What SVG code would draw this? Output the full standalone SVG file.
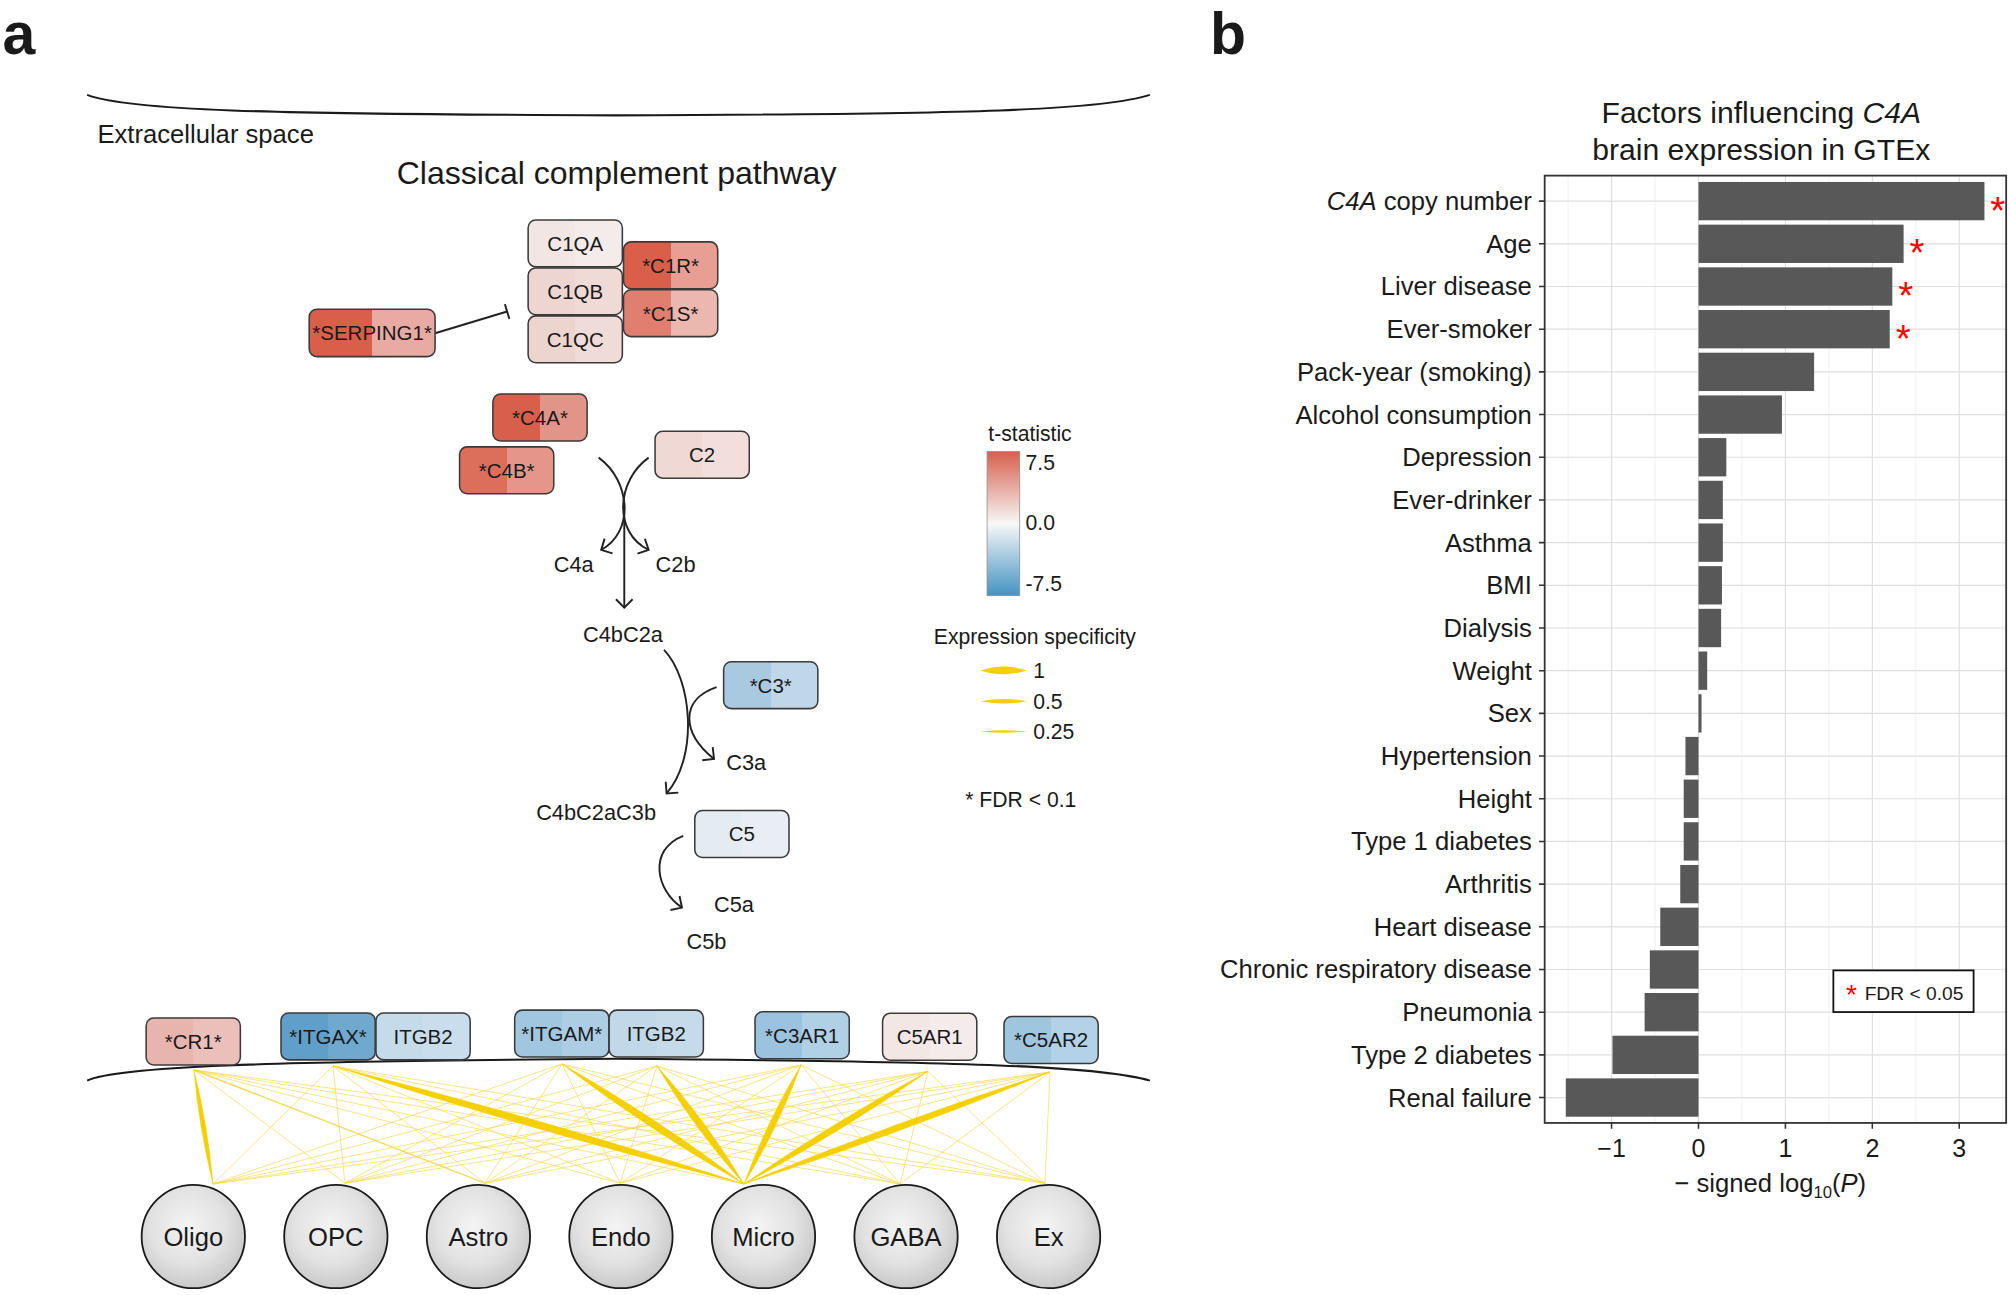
<svg xmlns="http://www.w3.org/2000/svg" width="2010" height="1295" viewBox="0 0 2010 1295">
<defs>
<style>
text{font-family:"Liberation Sans",Arial,Helvetica,sans-serif;fill:#1a1a1a}
.nd rect{stroke:#3a3a3a;stroke-width:1.2}
.nt{font-size:16px;text-anchor:middle}
.lbl{font-size:17px}
.cell ellipse{fill:url(#cellg);stroke:#1a1a1a;stroke-width:1.4}
.ct{font-size:20px;text-anchor:middle}
.thin{fill:none;stroke:#f5d955;stroke-width:0.65;opacity:0.85}
.thick{fill:#f5d000;stroke:#f5d000;stroke-width:0.4}
.arc{fill:none;stroke:#222;stroke-width:1.5}
.mem{fill:none;stroke:#1a1a1a;stroke-width:1.6}
.leg{font-size:16.5px}
.rl{font-size:20px;text-anchor:end}
.tk{font-size:19.5px;text-anchor:middle}
.gmaj{stroke:#dedede;stroke-width:0.9}
.gmin{stroke:#ececec;stroke-width:0.6}
.bar{fill:#585858}
.ast{font-size:30px;fill:#ff0000;text-anchor:middle}
.axt{stroke:#333;stroke-width:1.2}
.plab{font-size:46px;font-weight:bold}
</style>
<marker id="arr" viewBox="-10 -10 20 20" markerWidth="20" markerHeight="20" refX="0" refY="0" orient="auto" markerUnits="userSpaceOnUse"><path d="M -6.5 -6.5 L 0 0 L -6.5 6.5" fill="none" stroke="#222" stroke-width="1.5"/></marker>
<marker id="tee" viewBox="-10 -10 20 20" markerWidth="20" markerHeight="20" refX="0" refY="0" orient="auto" markerUnits="userSpaceOnUse"><path d="M 0 -6 L 0 6" fill="none" stroke="#222" stroke-width="1.5"/></marker>
<radialGradient id="cellg" cx="0.45" cy="0.4" r="0.6"><stop offset="0" stop-color="#f4f4f4"/><stop offset="0.6" stop-color="#e2e2e2"/><stop offset="1" stop-color="#c9c9c9"/></radialGradient>
<linearGradient id="cbar" x1="0" y1="0" x2="0" y2="1"><stop offset="0" stop-color="#d6604d"/><stop offset="0.5" stop-color="#f7f7f7"/><stop offset="1" stop-color="#4393c3"/></linearGradient>
<linearGradient id="gC1QA"><stop offset="0.5" stop-color="#f2e6e4"/><stop offset="0.5" stop-color="#f4ebea"/></linearGradient>
<linearGradient id="gC1QB"><stop offset="0.5" stop-color="#edd5d1"/><stop offset="0.5" stop-color="#efdad6"/></linearGradient>
<linearGradient id="gC1QC"><stop offset="0.5" stop-color="#ecd4cf"/><stop offset="0.5" stop-color="#efdbd7"/></linearGradient>
<linearGradient id="gC1R"><stop offset="0.5" stop-color="#d95f4a"/><stop offset="0.5" stop-color="#e89e92"/></linearGradient>
<linearGradient id="gC1S"><stop offset="0.5" stop-color="#e07f70"/><stop offset="0.5" stop-color="#ebb7af"/></linearGradient>
<linearGradient id="gSERP"><stop offset="0.5" stop-color="#d95f4b"/><stop offset="0.5" stop-color="#e8aaa2"/></linearGradient>
<linearGradient id="gC4A"><stop offset="0.5" stop-color="#d85f4b"/><stop offset="0.5" stop-color="#e39488"/></linearGradient>
<linearGradient id="gC4B"><stop offset="0.5" stop-color="#dc6e5c"/><stop offset="0.5" stop-color="#e5958a"/></linearGradient>
<linearGradient id="gC2"><stop offset="0.5" stop-color="#f0d9d5"/><stop offset="0.5" stop-color="#f2dfdb"/></linearGradient>
<linearGradient id="gC3"><stop offset="0.5" stop-color="#a9c9e1"/><stop offset="0.5" stop-color="#bfd7e9"/></linearGradient>
<linearGradient id="gC5"><stop offset="0.5" stop-color="#e4ebf1"/><stop offset="0.5" stop-color="#e8eef3"/></linearGradient>
<linearGradient id="gCR1"><stop offset="0.5" stop-color="#e8b5ae"/><stop offset="0.5" stop-color="#ecc0ba"/></linearGradient>
<linearGradient id="gITGAX"><stop offset="0.5" stop-color="#5f9fc9"/><stop offset="0.5" stop-color="#70a9d0"/></linearGradient>
<linearGradient id="gITGB2a"><stop offset="0.5" stop-color="#c5dbea"/><stop offset="0.5" stop-color="#c9dded"/></linearGradient>
<linearGradient id="gITGAM"><stop offset="0.5" stop-color="#a1c6e0"/><stop offset="0.5" stop-color="#adcde4"/></linearGradient>
<linearGradient id="gITGB2b"><stop offset="0.5" stop-color="#c1d8e9"/><stop offset="0.5" stop-color="#c6dbea"/></linearGradient>
<linearGradient id="gC3AR1"><stop offset="0.5" stop-color="#9bc2de"/><stop offset="0.5" stop-color="#b0d0e6"/></linearGradient>
<linearGradient id="gC5AR1"><stop offset="0.5" stop-color="#f3e7e6"/><stop offset="0.5" stop-color="#f5ebea"/></linearGradient>
<linearGradient id="gC5AR2"><stop offset="0.5" stop-color="#9fc5df"/><stop offset="0.5" stop-color="#b4d2e7"/></linearGradient>
</defs>
<rect width="2010" height="1295" fill="#ffffff"/>
<g transform="scale(1.28189)">

<g id="panel-a">
<text class="plab" x="2" y="42">a</text>
<path class="mem" d="M 68 74 C 100 86, 200 89, 480 90 C 760 89, 860 86, 897 74"/>
<text x="76" y="111.8" style="font-size:20px">Extracellular space</text>
<text x="481" y="143.5" style="font-size:25px;text-anchor:middle">Classical complement pathway</text>

<g id="connectors">
<path class="arc" d="M 339.4 260 L 395.6 243" marker-end="url(#tee)"/>
<path class="arc" d="M 467 357 C 492 375, 495 415, 469 429" marker-end="url(#arr)"/>
<path class="arc" d="M 506 357 C 481 375, 478 415, 506 429" marker-end="url(#arr)"/>
<path class="arc" d="M 487 392 L 487 474" marker-end="url(#arr)"/>
<path class="arc" d="M 518 507 C 540 530, 545 590, 520 619" marker-end="url(#arr)"/>
<path class="arc" d="M 559 536 C 530 546, 532 572, 557 592" marker-end="url(#arr)"/>
<path class="arc" d="M 533 652 C 505 663, 512 695, 532 708" marker-end="url(#arr)"/>
<path class="thin" d="M 151.3 834.7 L 269.1 923 M 151.3 834.7 L 483.7 923 M 151.3 834.7 L 580.4 923.6 M 151.3 834.7 L 702.1 923.6 M 151.3 834.7 L 815.2 923"/>
<path class="thin" style="stroke-width:1.1;stroke:#f2d340" d="M 151.3 834.7 L 378.3 923"/>
<path class="thin" d="M 259.8 831.6 L 166.2 923.6 M 259.8 831.6 L 269.1 923 M 259.8 831.6 L 378.3 923 M 259.8 831.6 L 483.7 923 M 259.8 831.6 L 702.1 923.6 M 259.8 831.6 L 815.2 923"/>
<path class="thin" d="M 438.4 830 L 166.2 923.6 M 438.4 830 L 269.1 923 M 438.4 830 L 378.3 923 M 438.4 830 L 483.7 923 M 438.4 830 L 702.1 923.6 M 438.4 830 L 815.2 923"/>
<path class="thin" d="M 512.5 831.6 L 166.2 923.6 M 512.5 831.6 L 269.1 923 M 512.5 831.6 L 378.3 923 M 512.5 831.6 L 483.7 923 M 512.5 831.6 L 702.1 923.6 M 512.5 831.6 L 815.2 923"/>
<path class="thin" d="M 624.9 830.8 L 166.2 923.6 M 624.9 830.8 L 269.1 923 M 624.9 830.8 L 378.3 923 M 624.9 830.8 L 483.7 923 M 624.9 830.8 L 702.1 923.6 M 624.9 830.8 L 815.2 923"/>
<path class="thin" d="M 723.9 835.8 L 166.2 923.6 M 723.9 835.8 L 269.1 923 M 723.9 835.8 L 378.3 923 M 723.9 835.8 L 483.7 923 M 723.9 835.8 L 702.1 923.6 M 723.9 835.8 L 815.2 923"/>
<path class="thin" d="M 819.1 836.3 L 166.2 923.6 M 819.1 836.3 L 269.1 923 M 819.1 836.3 L 378.3 923 M 819.1 836.3 L 483.7 923 M 819.1 836.3 L 702.1 923.6 M 819.1 836.3 L 815.2 923"/>
<path class="thick" d="M 151.3 834.7 Q 155.2 879.75 166.2 923.6 Q 162.3 878.55 151.3 834.7 Z"/>
<path class="thick" d="M 259.8 831.6 Q 418.55 882.98 580.4 923.6 Q 421.65 872.22 259.8 831.6 Z"/>
<path class="thick" d="M 438.4 830 Q 506.3 881.5 580.4 923.6 Q 512.5 872.1 438.4 830 Z"/>
<path class="thick" d="M 512.5 831.6 Q 541.9 880.9 580.4 923.6 Q 551.0 874.3 512.5 831.6 Z"/>
<path class="thick" d="M 624.9 830.8 Q 598.1 875.0 580.4 923.6 Q 607.2 879.4 624.9 830.8 Z"/>
<path class="thick" d="M 723.9 835.8 Q 649.5 875.4 580.4 923.6 Q 654.8 884.0 723.9 835.8 Z"/>
<path class="thick" d="M 819.1 836.3 Q 698.0 875.25 580.4 923.6 Q 701.5 884.65 819.1 836.3 Z"/>
</g>

<g id="node-C1QA" class="nd"><rect x="412" y="171.6" width="73.5" height="36.6" rx="6" fill="url(#gC1QA)"/><text class="nt" x="448.75" y="195.7">C1QA</text></g>
<g id="node-C1QB" class="nd"><rect x="412" y="209" width="73.5" height="36.6" rx="6" fill="url(#gC1QB)"/><text class="nt" x="448.75" y="233.1">C1QB</text></g>
<g id="node-C1QC" class="nd"><rect x="412" y="246.4" width="73.5" height="36.6" rx="6" fill="url(#gC1QC)"/><text class="nt" x="448.75" y="270.5">C1QC</text></g>
<g id="node-C1R" class="nd"><rect x="486.4" y="188.7" width="73.5" height="36.6" rx="6" fill="url(#gC1R)"/><text class="nt" x="523.15" y="212.8">*C1R*</text></g>
<g id="node-C1S" class="nd"><rect x="486.4" y="226" width="73.5" height="36.6" rx="6" fill="url(#gC1S)"/><text class="nt" x="523.15" y="250.1">*C1S*</text></g>
<g id="node-SERPING1" class="nd"><rect x="241.2" y="241.3" width="98.2" height="36.9" rx="6" fill="url(#gSERP)"/><text class="nt" x="290.3" y="265.5">*SERPING1*</text></g>
<g id="node-C4A" class="nd"><rect x="384.5" y="307.4" width="73.5" height="36.6" rx="6" fill="url(#gC4A)"/><text class="nt" x="421.25" y="331.5">*C4A*</text></g>
<g id="node-C4B" class="nd"><rect x="358.5" y="348.6" width="73.5" height="36.6" rx="6" fill="url(#gC4B)"/><text class="nt" x="395.25" y="372.7">*C4B*</text></g>
<g id="node-C2" class="nd"><rect x="511" y="336.4" width="73.5" height="36.6" rx="6" fill="url(#gC2)"/><text class="nt" x="547.75" y="360.5">C2</text></g>
<g id="node-C3" class="nd"><rect x="564.5" y="516.2" width="73.5" height="36.6" rx="6" fill="url(#gC3)"/><text class="nt" x="601.25" y="540.3">*C3*</text></g>
<g id="node-C5" class="nd"><rect x="542" y="632.3" width="73.5" height="36.6" rx="6" fill="url(#gC5)"/><text class="nt" x="578.75" y="656.4">C5</text></g>

<text class="lbl" x="447.5" y="446" style="text-anchor:middle">C4a</text>
<text class="lbl" x="527" y="446" style="text-anchor:middle">C2b</text>
<text class="lbl" x="486" y="500.5" style="text-anchor:middle">C4bC2a</text>
<text class="lbl" x="566.5" y="600.7">C3a</text>
<text class="lbl" x="465" y="640" style="text-anchor:middle">C4bC2aC3b</text>
<text class="lbl" x="557" y="711.3">C5a</text>
<text class="lbl" x="535.5" y="740.3">C5b</text>

<g id="legend-a">
<text class="leg" x="803.5" y="344" style="text-anchor:middle">t-statistic</text>
<rect x="770" y="352.3" width="25.5" height="112.4" fill="url(#cbar)" stroke="#8c8c8c" stroke-width="0.6"/>
<text class="leg" x="800" y="367">7.5</text>
<text class="leg" x="800" y="413.6">0.0</text>
<text class="leg" x="800" y="460.9">-7.5</text>
<text class="leg" x="728.5" y="502.7">Expression specificity</text>
<path d="M 765 523 Q 783 517 801 523 Q 783 529 765 523 Z" fill="#f5cf00"/>
<path d="M 765 547 Q 783 543.4 801 547 Q 783 550.6 765 547 Z" fill="#f5cf00"/>
<path d="M 765 570.6 Q 783 568.6 801 570.6 Q 783 572.6 765 570.6 Z" fill="#f5cf00"/>
<text class="leg" x="806" y="528.6">1</text>
<text class="leg" x="806" y="552.8">0.5</text>
<text class="leg" x="806" y="576.5">0.25</text>
<text class="leg" x="753" y="629.7">* FDR &lt; 0.1</text>
</g>

<path class="mem" d="M 68 843 C 90 832, 200 828, 480 826 C 760 828, 860 832, 897 843"/>

<g id="node-CR1" class="nd"><rect x="114" y="794.2" width="73.5" height="36.6" rx="6" fill="url(#gCR1)"/><text class="nt" x="150.75" y="818.3">*CR1*</text></g>
<g id="node-ITGAX" class="nd"><rect x="219.2" y="790.2" width="73.5" height="36.6" rx="6" fill="url(#gITGAX)"/><text class="nt" x="255.95" y="814.3">*ITGAX*</text></g>
<g id="node-ITGB2-1" class="nd"><rect x="293.3" y="790.2" width="73.5" height="36.6" rx="6" fill="url(#gITGB2a)"/><text class="nt" x="330.05" y="814.3">ITGB2</text></g>
<g id="node-ITGAM" class="nd"><rect x="401.5" y="788" width="73.5" height="36.6" rx="6" fill="url(#gITGAM)"/><text class="nt" x="438.25" y="812.1">*ITGAM*</text></g>
<g id="node-ITGB2-2" class="nd"><rect x="475.2" y="788" width="73.5" height="36.6" rx="6" fill="url(#gITGB2b)"/><text class="nt" x="511.95" y="812.1">ITGB2</text></g>
<g id="node-C3AR1" class="nd"><rect x="589" y="789.3" width="73.5" height="36.6" rx="6" fill="url(#gC3AR1)"/><text class="nt" x="625.75" y="813.4">*C3AR1</text></g>
<g id="node-C5AR1" class="nd"><rect x="688.5" y="790.5" width="73.5" height="36.6" rx="6" fill="url(#gC5AR1)"/><text class="nt" x="725.25" y="814.6">C5AR1</text></g>
<g id="node-C5AR2" class="nd"><rect x="783.2" y="793" width="73.5" height="36.6" rx="6" fill="url(#gC5AR2)"/><text class="nt" x="819.95" y="817.1">*C5AR2</text></g>

<g id="cell-Oligo" class="cell"><ellipse cx="150.8" cy="964.6" rx="40.3" ry="40.3"/><text class="ct" x="150.8" y="971.8">Oligo</text></g>
<g id="cell-OPC" class="cell"><ellipse cx="262" cy="964.6" rx="40.3" ry="40.3"/><text class="ct" x="262" y="971.8">OPC</text></g>
<g id="cell-Astro" class="cell"><ellipse cx="373.2" cy="964.6" rx="40.3" ry="40.3"/><text class="ct" x="373.2" y="971.8">Astro</text></g>
<g id="cell-Endo" class="cell"><ellipse cx="484.4" cy="964.6" rx="40.3" ry="40.3"/><text class="ct" x="484.4" y="971.8">Endo</text></g>
<g id="cell-Micro" class="cell"><ellipse cx="595.6" cy="964.6" rx="40.3" ry="40.3"/><text class="ct" x="595.6" y="971.8">Micro</text></g>
<g id="cell-GABA" class="cell"><ellipse cx="706.8" cy="964.6" rx="40.3" ry="40.3"/><text class="ct" x="706.8" y="971.8">GABA</text></g>
<g id="cell-Ex" class="cell"><ellipse cx="818" cy="964.6" rx="40.3" ry="40.3"/><text class="ct" x="818" y="971.8">Ex</text></g>
</g>

<g id="panel-b">
<text class="plab" x="944" y="42">b</text>
<text x="1374" y="96" style="font-size:23.5px;text-anchor:middle">Factors influencing <tspan font-style="italic">C4A</tspan></text>
<text x="1374" y="124.5" style="font-size:23.5px;text-anchor:middle">brain expression in GTEx</text>
<rect x="1205" y="137" width="360" height="739" fill="#ffffff"/>
<g id="grid">
<path class="gmin" d="M 1223.3 137 V 876 M 1291.1 137 V 876 M 1358.9 137 V 876 M 1426.7 137 V 876 M 1494.5 137 V 876 M 1562.3 137 V 876"/>
<path class="gmaj" d="M 1257.2 137 V 876 M 1325 137 V 876 M 1392.8 137 V 876 M 1460.6 137 V 876 M 1528.4 137 V 876"/>
<path class="gmaj" d="M 1205 156.9 H 1565 M 1205 190.2 H 1565 M 1205 223.5 H 1565 M 1205 256.8 H 1565 M 1205 290.1 H 1565 M 1205 323.4 H 1565 M 1205 356.7 H 1565 M 1205 390 H 1565 M 1205 423.3 H 1565 M 1205 456.6 H 1565 M 1205 489.9 H 1565 M 1205 523.2 H 1565 M 1205 556.5 H 1565 M 1205 589.8 H 1565 M 1205 623.1 H 1565 M 1205 656.4 H 1565 M 1205 689.7 H 1565 M 1205 723 H 1565 M 1205 756.3 H 1565 M 1205 789.6 H 1565 M 1205 822.9 H 1565 M 1205 856.2 H 1565"/>
</g>
<g id="bars">
<rect class="bar" x="1325" y="141.95" width="223.06" height="29.9"/>
<rect class="bar" x="1325" y="175.25" width="160" height="29.9"/>
<rect class="bar" x="1325" y="208.55" width="151.2" height="29.9"/>
<rect class="bar" x="1325" y="241.85" width="149.16" height="29.9"/>
<rect class="bar" x="1325" y="275.15" width="90.17" height="29.9"/>
<rect class="bar" x="1325" y="308.45" width="65.09" height="29.9"/>
<rect class="bar" x="1325" y="341.75" width="21.7" height="29.9"/>
<rect class="bar" x="1325" y="375.05" width="18.98" height="29.9"/>
<rect class="bar" x="1325" y="408.35" width="18.98" height="29.9"/>
<rect class="bar" x="1325" y="441.65" width="18.31" height="29.9"/>
<rect class="bar" x="1325" y="474.95" width="17.63" height="29.9"/>
<rect class="bar" x="1325" y="508.25" width="6.78" height="29.9"/>
<rect class="bar" x="1325" y="541.55" width="2.37" height="29.9"/>
<rect class="bar" x="1314.83" y="574.85" width="10.17" height="29.9"/>
<rect class="bar" x="1313.47" y="608.15" width="11.53" height="29.9"/>
<rect class="bar" x="1313.47" y="641.45" width="11.53" height="29.9"/>
<rect class="bar" x="1310.76" y="674.75" width="14.24" height="29.9"/>
<rect class="bar" x="1295.17" y="708.05" width="29.83" height="29.9"/>
<rect class="bar" x="1287.03" y="741.35" width="37.97" height="29.9"/>
<rect class="bar" x="1282.96" y="774.65" width="42.04" height="29.9"/>
<rect class="bar" x="1257.88" y="807.95" width="67.12" height="29.9"/>
<rect class="bar" x="1221.47" y="841.25" width="103.53" height="29.9"/>
</g>
<text class="ast" x="1558.5" y="174.4">*</text>
<text class="ast" x="1495.5" y="207.7">*</text>
<text class="ast" x="1486.7" y="241">*</text>
<text class="ast" x="1484.7" y="274.3">*</text>
<rect x="1205" y="137" width="360" height="739" fill="none" stroke="#333" stroke-width="1.4"/>
<path class="axt" d="M 1200.5 156.9 H 1205 M 1200.5 190.2 H 1205 M 1200.5 223.5 H 1205 M 1200.5 256.8 H 1205 M 1200.5 290.1 H 1205 M 1200.5 323.4 H 1205 M 1200.5 356.7 H 1205 M 1200.5 390 H 1205 M 1200.5 423.3 H 1205 M 1200.5 456.6 H 1205 M 1200.5 489.9 H 1205 M 1200.5 523.2 H 1205 M 1200.5 556.5 H 1205 M 1200.5 589.8 H 1205 M 1200.5 623.1 H 1205 M 1200.5 656.4 H 1205 M 1200.5 689.7 H 1205 M 1200.5 723 H 1205 M 1200.5 756.3 H 1205 M 1200.5 789.6 H 1205 M 1200.5 822.9 H 1205 M 1200.5 856.2 H 1205"/>
<path class="axt" d="M 1257.2 876 V 880.5 M 1325 876 V 880.5 M 1392.8 876 V 880.5 M 1460.6 876 V 880.5 M 1528.4 876 V 880.5"/>
<g id="row-labels">
<text class="rl" x="1195" y="163.9"><tspan font-style="italic">C4A</tspan> copy number</text>
<text class="rl" x="1195" y="197.2">Age</text>
<text class="rl" x="1195" y="230.5">Liver disease</text>
<text class="rl" x="1195" y="263.8">Ever-smoker</text>
<text class="rl" x="1195" y="297.1">Pack-year (smoking)</text>
<text class="rl" x="1195" y="330.4">Alcohol consumption</text>
<text class="rl" x="1195" y="363.7">Depression</text>
<text class="rl" x="1195" y="397">Ever-drinker</text>
<text class="rl" x="1195" y="430.3">Asthma</text>
<text class="rl" x="1195" y="463.6">BMI</text>
<text class="rl" x="1195" y="496.9">Dialysis</text>
<text class="rl" x="1195" y="530.2">Weight</text>
<text class="rl" x="1195" y="563.5">Sex</text>
<text class="rl" x="1195" y="596.8">Hypertension</text>
<text class="rl" x="1195" y="630.1">Height</text>
<text class="rl" x="1195" y="663.4">Type 1 diabetes</text>
<text class="rl" x="1195" y="696.7">Arthritis</text>
<text class="rl" x="1195" y="730">Heart disease</text>
<text class="rl" x="1195" y="763.3">Chronic respiratory disease</text>
<text class="rl" x="1195" y="796.6">Pneumonia</text>
<text class="rl" x="1195" y="829.9">Type 2 diabetes</text>
<text class="rl" x="1195" y="863.2">Renal failure</text>
</g>
<text class="tk" x="1257.2" y="902.3">−1</text>
<text class="tk" x="1325" y="902.3">0</text>
<text class="tk" x="1392.8" y="902.3">1</text>
<text class="tk" x="1460.6" y="902.3">2</text>
<text class="tk" x="1528.4" y="902.3">3</text>
<text x="1381" y="929.6" style="font-size:20px;text-anchor:middle">− signed log<tspan dy="5" style="font-size:13px">10</tspan><tspan dy="-5">(</tspan><tspan font-style="italic">P</tspan>)</text>
<g id="legend-b">
<rect x="1430.2" y="757" width="109.4" height="32.5" fill="#ffffff" stroke="#111" stroke-width="1.4"/>
<text x="1444.4" y="783.5" style="font-size:22px;fill:#ff0000;text-anchor:middle">*</text>
<text x="1454.6" y="780.2" style="font-size:15px">FDR &lt; 0.05</text>
</g>
</g>
</g>
</svg>
